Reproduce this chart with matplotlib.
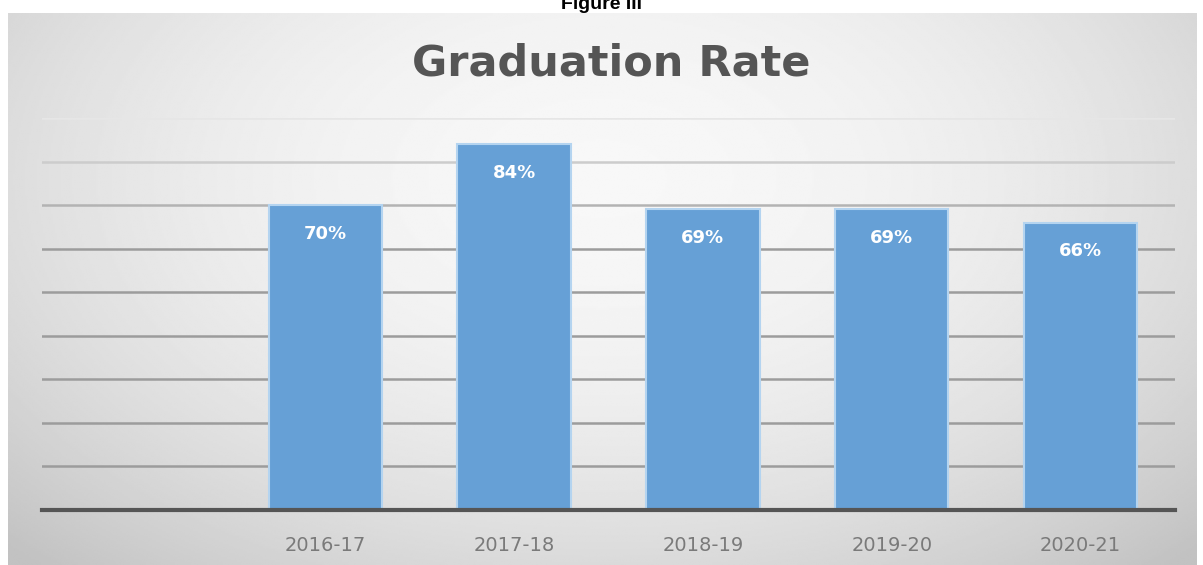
import numpy as np
import matplotlib.pyplot as plt

# datos del grafico
years = ['2016-17', '2017-18', '2018-19', '2019-20', '2020-21']
rates = [70, 84, 69, 69, 66]
grid_ticks = list(range(10, 91, 10))

W, H = 1203, 565
fig = plt.figure(figsize=(W / 100, H / 100), dpi=100)
fig.patch.set_facecolor('white')

# fondo con degradado radial (estilo Excel)
bg = fig.add_axes([8 / W, 0, (1197 - 8) / W, (H - 13) / H])
yy, xx = np.mgrid[0:1:300j, 0:1:600j]
r = np.sqrt(((xx - 0.5) / 0.6) ** 2 + ((yy - 0.7) / 0.8) ** 2)
shade = np.clip(0.97 - 0.15 * r ** 2, 0.76, 1)
bg.imshow(shade, cmap='gray', vmin=0, vmax=1, aspect='auto',
          extent=[0, 1, 0, 1], origin='lower', interpolation='bilinear')
bg.axis('off')

# titulo de la figura, cortado arriba como en la imagen
fig.text(0.5, 1 - 9 / H, 'Figure III', ha='center', va='baseline',
         fontsize=14, fontweight='bold', family='Liberation Sans', color='black')

fig.text(611 / W, 1 - 75 / H, 'Graduation Rate', ha='center', va='baseline',
         fontsize=31, fontweight='bold', family='DejaVu Sans', color='#555555')

ax = fig.add_axes([42 / W, 1 - 510 / H, (1175 - 42) / W, (510 - 118) / H])
ax.patch.set_alpha(0)

x = np.arange(len(years))
ax.bar(x, rates, width=0.6, color='#66a0d6', edgecolor='#b4d4f0',
       linewidth=1.5, zorder=3)

for xi, v in zip(x, rates):
    ax.text(xi, v - 6.6, f'{v}%', ha='center', va='center', color='white',
            fontsize=13, fontweight='bold', family='DejaVu Sans', zorder=4)

ax.set_xlim(-1.5, len(years) - 0.5)
ax.set_ylim(0, 90)
ax.set_yticks(grid_ticks)
ax.yaxis.grid(True, color='#9c9c9c', linewidth=1.8, zorder=1)
# las lineas de arriba se ven mas claras
gl = ax.get_ygridlines()
gl[-1].set_color('#e6e6e6')
gl[-2].set_color('#cccccc')
gl[-3].set_color('#b3b3b3')
ax.tick_params(axis='y', left=False, labelleft=False)
ax.set_xticks(x)
ax.set_xticklabels(years, fontsize=14, color='#7a7a7a', family='DejaVu Sans')
ax.tick_params(axis='x', length=0, pad=19)

for side in ['top', 'right', 'left']:
    ax.spines[side].set_visible(False)
ax.spines['bottom'].set_color('#555555')
ax.spines['bottom'].set_linewidth(3)
ax.spines['bottom'].set_zorder(5)

fig.savefig('out.png', dpi=100)
